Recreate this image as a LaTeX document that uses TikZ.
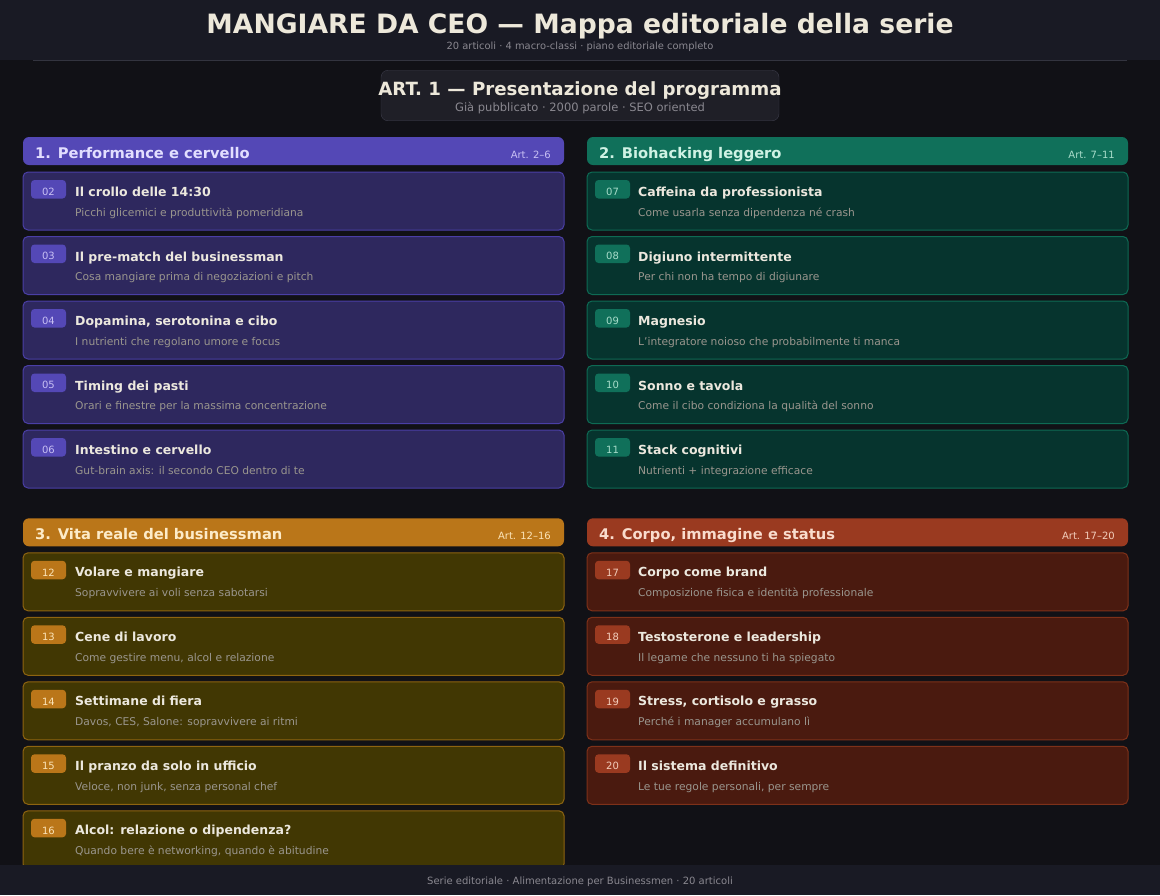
\documentclass[tikz,border=0pt]{standalone}
\usepackage{fontspec}
\setmainfont{DejaVu Sans}
\usetikzlibrary{positioning,calc}

\definecolor{bgpage}{HTML}{111116}
\definecolor{bgband}{HTML}{191A24}
\definecolor{rulegray}{HTML}{33343F}
\definecolor{titlecream}{HTML}{EDE8DA}
\definecolor{subgray}{HTML}{8A8890}
\definecolor{boxfill}{HTML}{1F1F27}
\definecolor{boxline}{HTML}{3C3C4A}
\definecolor{cardtext}{HTML}{ECE8DE}
\definecolor{cardsub}{HTML}{9A968E}
% section colours: head, card, line, head text, badge text
\definecolor{hd1}{HTML}{5448B6}\definecolor{cd1}{HTML}{2E285E}\definecolor{ln1}{HTML}{4A3FA6}
\definecolor{ht1}{HTML}{E2DEFF}\definecolor{bt1}{HTML}{C8C0F4}
\definecolor{hd2}{HTML}{10705A}\definecolor{cd2}{HTML}{06342E}\definecolor{ln2}{HTML}{0E6A54}
\definecolor{ht2}{HTML}{CFF2E4}\definecolor{bt2}{HTML}{A8DCCA}
\definecolor{hd3}{HTML}{BA7619}\definecolor{cd3}{HTML}{413703}\definecolor{ln3}{HTML}{8E6410}
\definecolor{ht3}{HTML}{FDEBC8}\definecolor{bt3}{HTML}{FBE4B8}
\definecolor{hd4}{HTML}{9A3A20}\definecolor{cd4}{HTML}{4A1A0F}\definecolor{ln4}{HTML}{7E3119}
\definecolor{ht4}{HTML}{F9DCCD}\definecolor{bt4}{HTML}{F2CDBB}

\tikzset{%
      headbase/.style = {rectangle, rounded corners=6pt, inner sep=0pt, outer sep=0pt,
                         minimum width=541pt, minimum height=28pt},
      cardbase/.style = {rectangle, rounded corners=5pt, inner sep=0pt, outer sep=0pt,
                         line width=1pt, minimum width=541pt, minimum height=58pt},
     badgebase/.style = {rectangle, rounded corners=3.5pt, inner sep=0pt, outer sep=0pt,
                         minimum width=35pt, minimum height=18.5pt,
                         text height=12.3pt, text depth=0pt,
                         font=\fontsize{10}{12}\selectfont},
  head1/.style = {headbase, fill=hd1},
  head2/.style = {headbase, fill=hd2},
  head3/.style = {headbase, fill=hd3},
  head4/.style = {headbase, fill=hd4},
  card1/.style = {cardbase, fill=cd1, draw=ln1},
  card2/.style = {cardbase, fill=cd2, draw=ln2},
  card3/.style = {cardbase, fill=cd3, draw=ln3},
  card4/.style = {cardbase, fill=cd4, draw=ln4},
  badge1/.style = {badgebase, fill=hd1, text=bt1},
  badge2/.style = {badgebase, fill=hd2, text=bt2},
  badge3/.style = {badgebase, fill=hd3, text=bt3},
  badge4/.style = {badgebase, fill=hd4, text=bt4},
  headtxt/.style = {inner sep=0pt, anchor=base west, font=\fontsize{14.7}{18}\selectfont\bfseries},
  headart/.style = {inner sep=0pt, anchor=base east, font=\fontsize{10}{12}\selectfont},
  ctitle/.style = {inner sep=0pt, anchor=base west, text=cardtext,
                   font=\fontsize{12.5}{15}\selectfont\bfseries},
  csub/.style = {inner sep=0pt, anchor=base west, text=cardsub,
                 font=\fontsize{10.7}{13}\selectfont},
}

\begin{document}
\begin{tikzpicture}[x=1pt, y=-1pt]
  \useasboundingbox (0,0) rectangle (1160,895);
  \fill[bgpage] (0,0) rectangle (1160,895);
  \fill[bgband] (0,0) rectangle (1160,60);
  \draw[rulegray, line width=1.5pt] (33,60.5) -- (1127,60.5);

  \node (title) [inner sep=0pt, anchor=base, text=titlecream,
    font=\fontsize{26.6}{32}\selectfont\bfseries] at (580,33.3)
    {MANGIARE DA CEO — Mappa editoriale della serie};
  \node (subtitle) [inner sep=0pt, anchor=base, text=subgray,
    font=\fontsize{9.9}{12}\selectfont] at (580,49.3)
    {20 articoli · 4 macro-classi · piano editoriale completo};

  \node (art1) [rectangle, rounded corners=7pt, fill=boxfill, draw=boxline,
    minimum width=398pt, minimum height=50.5pt] at (580,95.5) {};
  \node (art1t) [inner sep=0pt, anchor=base, text=titlecream,
    font=\fontsize{18.2}{22}\selectfont\bfseries] at (580,95)
    {ART. 1 — Presentazione del programma};
  \node (art1s) [inner sep=0pt, anchor=base, text=subgray,
    font=\fontsize{11.5}{14}\selectfont] at (580,111.7)
    {Già pubblicato · 2000 parole · SEO oriented};

  % 1. Performance e cervello
  \node (h1) [head1, anchor=north west] at (23,137) {};
  \node (h1t) [headtxt, text=ht1] at ($(h1.north west)+(12,21)$) {1. Performance e cervello};
  \node (h1r) [headart, text=bt1] at ($(h1.north east)+(-13,21)$) {Art. 2–6};

  \node (c02) [card1, below=7pt of h1] {};
  \node (b02) [badge1, anchor=north west] at ($(c02.north west)+(8,8)$) {02};
  \node (t02) [ctitle] at ($(c02.north west)+(52,24.5)$) {Il crollo delle 14:30};
  \node (s02) [csub] at ($(c02.north west)+(52,44)$) {Picchi glicemici e produttività pomeridiana};

  \node (c03) [card1, below=6.5pt of c02] {};
  \node (b03) [badge1, anchor=north west] at ($(c03.north west)+(8,8)$) {03};
  \node (t03) [ctitle] at ($(c03.north west)+(52,24.5)$) {Il pre-match del businessman};
  \node (s03) [csub] at ($(c03.north west)+(52,44)$) {Cosa mangiare prima di negoziazioni e pitch};

  \node (c04) [card1, below=6.5pt of c03] {};
  \node (b04) [badge1, anchor=north west] at ($(c04.north west)+(8,8)$) {04};
  \node (t04) [ctitle] at ($(c04.north west)+(52,24.5)$) {Dopamina, serotonina e cibo};
  \node (s04) [csub] at ($(c04.north west)+(52,44)$) {I nutrienti che regolano umore e focus};

  \node (c05) [card1, below=6.5pt of c04] {};
  \node (b05) [badge1, anchor=north west] at ($(c05.north west)+(8,8)$) {05};
  \node (t05) [ctitle] at ($(c05.north west)+(52,24.5)$) {Timing dei pasti};
  \node (s05) [csub] at ($(c05.north west)+(52,44)$) {Orari e finestre per la massima concentrazione};

  \node (c06) [card1, below=6.5pt of c05] {};
  \node (b06) [badge1, anchor=north west] at ($(c06.north west)+(8,8)$) {06};
  \node (t06) [ctitle] at ($(c06.north west)+(52,24.5)$) {Intestino e cervello};
  \node (s06) [csub] at ($(c06.north west)+(52,44)$) {Gut-brain axis: il secondo CEO dentro di te};

  % 2. Biohacking leggero
  \node (h2) [head2, anchor=north west] at (587,137) {};
  \node (h2t) [headtxt, text=ht2] at ($(h2.north west)+(12,21)$) {2. Biohacking leggero};
  \node (h2r) [headart, text=bt2] at ($(h2.north east)+(-13,21)$) {Art. 7–11};

  \node (c07) [card2, below=7pt of h2] {};
  \node (b07) [badge2, anchor=north west] at ($(c07.north west)+(8,8)$) {07};
  \node (t07) [ctitle] at ($(c07.north west)+(51,24.5)$) {Caffeina da professionista};
  \node (s07) [csub] at ($(c07.north west)+(51,44)$) {Come usarla senza dipendenza né crash};

  \node (c08) [card2, below=6.5pt of c07] {};
  \node (b08) [badge2, anchor=north west] at ($(c08.north west)+(8,8)$) {08};
  \node (t08) [ctitle] at ($(c08.north west)+(51,24.5)$) {Digiuno intermittente};
  \node (s08) [csub] at ($(c08.north west)+(51,44)$) {Per chi non ha tempo di digiunare};

  \node (c09) [card2, below=6.5pt of c08] {};
  \node (b09) [badge2, anchor=north west] at ($(c09.north west)+(8,8)$) {09};
  \node (t09) [ctitle] at ($(c09.north west)+(51,24.5)$) {Magnesio};
  \node (s09) [csub] at ($(c09.north west)+(51,44)$) {L'integratore noioso che probabilmente ti manca};

  \node (c10) [card2, below=6.5pt of c09] {};
  \node (b10) [badge2, anchor=north west] at ($(c10.north west)+(8,8)$) {10};
  \node (t10) [ctitle] at ($(c10.north west)+(51,24.5)$) {Sonno e tavola};
  \node (s10) [csub] at ($(c10.north west)+(51,44)$) {Come il cibo condiziona la qualità del sonno};

  \node (c11) [card2, below=6.5pt of c10] {};
  \node (b11) [badge2, anchor=north west] at ($(c11.north west)+(8,8)$) {11};
  \node (t11) [ctitle] at ($(c11.north west)+(51,24.5)$) {Stack cognitivi};
  \node (s11) [csub] at ($(c11.north west)+(51,44)$) {Nutrienti + integrazione efficace};

  % 3. Vita reale del businessman
  \node (h3) [head3, anchor=north west] at (23,518.3) {};
  \node (h3t) [headtxt, text=ht3] at ($(h3.north west)+(12,21)$) {3. Vita reale del businessman};
  \node (h3r) [headart, text=bt3] at ($(h3.north east)+(-13,21)$) {Art. 12–16};

  \node (c12) [card3, below=6.5pt of h3] {};
  \node (b12) [badge3, anchor=north west] at ($(c12.north west)+(8,8)$) {12};
  \node (t12) [ctitle] at ($(c12.north west)+(52,24)$) {Volare e mangiare};
  \node (s12) [csub] at ($(c12.north west)+(52,44)$) {Sopravvivere ai voli senza sabotarsi};

  \node (c13) [card3, below=6.5pt of c12] {};
  \node (b13) [badge3, anchor=north west] at ($(c13.north west)+(8,8)$) {13};
  \node (t13) [ctitle] at ($(c13.north west)+(52,24)$) {Cene di lavoro};
  \node (s13) [csub] at ($(c13.north west)+(52,44)$) {Come gestire menu, alcol e relazione};

  \node (c14) [card3, below=6.5pt of c13] {};
  \node (b14) [badge3, anchor=north west] at ($(c14.north west)+(8,8)$) {14};
  \node (t14) [ctitle] at ($(c14.north west)+(52,24)$) {Settimane di fiera};
  \node (s14) [csub] at ($(c14.north west)+(52,44)$) {Davos, CES, Salone: sopravvivere ai ritmi};

  \node (c15) [card3, below=6.5pt of c14] {};
  \node (b15) [badge3, anchor=north west] at ($(c15.north west)+(8,8)$) {15};
  \node (t15) [ctitle] at ($(c15.north west)+(52,24)$) {Il pranzo da solo in ufficio};
  \node (s15) [csub] at ($(c15.north west)+(52,44)$) {Veloce, non junk, senza personal chef};

  \node (c16) [card3, below=6.5pt of c15] {};
  \node (b16) [badge3, anchor=north west] at ($(c16.north west)+(8,8)$) {16};
  \node (t16) [ctitle] at ($(c16.north west)+(52,24)$) {Alcol: relazione o dipendenza?};
  \node (s16) [csub] at ($(c16.north west)+(52,44)$) {Quando bere è networking, quando è abitudine};

  % 4. Corpo, immagine e status
  \node (h4) [head4, anchor=north west] at (587,518.3) {};
  \node (h4t) [headtxt, text=ht4] at ($(h4.north west)+(12,21)$) {4. Corpo, immagine e status};
  \node (h4r) [headart, text=bt4] at ($(h4.north east)+(-13,21)$) {Art. 17–20};

  \node (c17) [card4, below=6.5pt of h4] {};
  \node (b17) [badge4, anchor=north west] at ($(c17.north west)+(8,8)$) {17};
  \node (t17) [ctitle] at ($(c17.north west)+(51,24)$) {Corpo come brand};
  \node (s17) [csub] at ($(c17.north west)+(51,44)$) {Composizione fisica e identità professionale};

  \node (c18) [card4, below=6.5pt of c17] {};
  \node (b18) [badge4, anchor=north west] at ($(c18.north west)+(8,8)$) {18};
  \node (t18) [ctitle] at ($(c18.north west)+(51,24)$) {Testosterone e leadership};
  \node (s18) [csub] at ($(c18.north west)+(51,44)$) {Il legame che nessuno ti ha spiegato};

  \node (c19) [card4, below=6.5pt of c18] {};
  \node (b19) [badge4, anchor=north west] at ($(c19.north west)+(8,8)$) {19};
  \node (t19) [ctitle] at ($(c19.north west)+(51,24)$) {Stress, cortisolo e grasso};
  \node (s19) [csub] at ($(c19.north west)+(51,44)$) {Perché i manager accumulano lì};

  \node (c20) [card4, below=6.5pt of c19] {};
  \node (b20) [badge4, anchor=north west] at ($(c20.north west)+(8,8)$) {20};
  \node (t20) [ctitle] at ($(c20.north west)+(51,24)$) {Il sistema definitivo};
  \node (s20) [csub] at ($(c20.north west)+(51,44)$) {Le tue regole personali, per sempre};

  % footer
  \fill[bgband] (0,865) rectangle (1160,895);
  \node (footer) [inner sep=0pt, anchor=base, text=subgray,
    font=\fontsize{10}{12}\selectfont] at (580,884)
    {Serie editoriale · Alimentazione per Businessmen · 20 articoli};
\end{tikzpicture}
\end{document}
